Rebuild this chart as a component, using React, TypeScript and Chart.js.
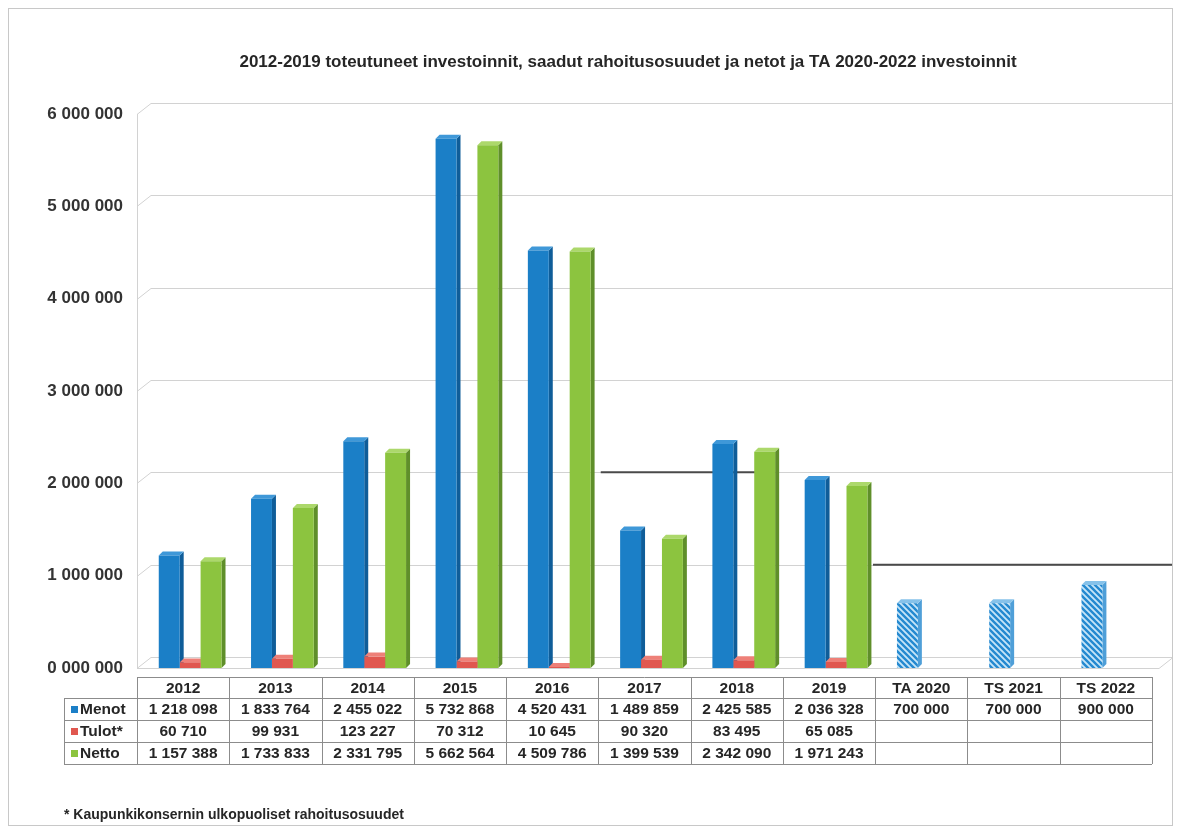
import { useEffect, useRef } from "react";
import { Chart, registerables } from "chart.js";

Chart.register(...registerables);

const FONT = "'Liberation Sans', Arial, sans-serif";

const categories = ["2012", "2013", "2014", "2015", "2016", "2017", "2018", "2019", "TA 2020", "TS 2021", "TS 2022"];
const menot = [1218098, 1833764, 2455022, 5732868, 4520431, 1489859, 2425585, 2036328, 700000, 700000, 900000];
const tulot = [60710, 99931, 123227, 70312, 10645, 90320, 83495, 65085, null, null, null];
const netto = [1157388, 1733833, 2331795, 5662564, 4509786, 1399539, 2342090, 1971243, null, null, null];
const seriesNames = ["Menot", "Tulot*", "Netto"];

const yTicks = [0, 1000000, 2000000, 3000000, 4000000, 5000000, 6000000];
const yTickLabels = ["0 000 000", "1 000 000", "2 000 000", "3 000 000", "4 000 000", "5 000 000", "6 000 000"];

const titleText = "2012-2019 toteutuneet investoinnit, saadut rahoitusosuudet ja netot ja TA 2020-2022 investoinnit";
const footnote = "* Kaupunkikonsernin ulkopuoliset rahoitusosuudet";

// planned years (TA/TS) start here, drawn hatched
const plannedFrom = 8;
// darker pieces of the back-wall gridlines
const darkGridSegments = [
  { value: 2000000, from: 4.45, to: 6.2 },
  { value: 1000000, from: 7.4, to: 10.65 },
];

const COLORS = {
  front: ["#1b7fc7", "#e0574f", "#8cc43f"],
  side: ["#0f5d99", "#a83c35", "#5f8f2a"],
  top: ["#3f98d8", "#ee8078", "#acd86b"],
};
const WALL_DX = 14;
const WALL_DY = 11;
const BAR_D = 4;
// bars stand half-way into the 3D floor, the table/front edge is shifted left of them
const FRONT_SHIFT = 7;

const fmt = (v: number | null) => (v == null ? "" : String(v).replace(/\B(?=(\d{3})+(?!\d))/g, " "));

function makeHatch(ctx: CanvasRenderingContext2D) {
  const c = document.createElement("canvas");
  c.width = 6;
  c.height = 6;
  const g = c.getContext("2d")!;
  g.fillStyle = "#c6e5f8";
  g.fillRect(0, 0, 6, 6);
  g.strokeStyle = "#2589d0";
  g.lineWidth = 2.4;
  g.beginPath();
  g.moveTo(-1, -1);
  g.lineTo(7, 7);
  g.moveTo(-1, 5);
  g.lineTo(1, 7);
  g.moveTo(5, -1);
  g.lineTo(7, 1);
  g.stroke();
  return ctx.createPattern(c, "repeat")!;
}

const wallPlugin = {
  id: "wall",
  beforeDatasetsDraw(chart: any) {
    const { ctx, chartArea } = chart;
    const x = chart.scales.x;
    const y = chart.scales.y;
    const front = chartArea.left - FRONT_SHIFT;
    ctx.save();
    ctx.lineWidth = 1;
    ctx.strokeStyle = "#d2d2d2";
    yTicks.forEach((v) => {
      const py = Math.round(y.getPixelForValue(v)) + 0.5;
      ctx.beginPath();
      ctx.moveTo(front, py);
      ctx.lineTo(front + WALL_DX, py - WALL_DY);
      ctx.lineTo(chartArea.right + WALL_DX, py - WALL_DY);
      ctx.stroke();
    });
    ctx.beginPath();
    ctx.moveTo(front + 0.5, y.getPixelForValue(6000000));
    ctx.lineTo(front + 0.5, y.getPixelForValue(0));
    ctx.moveTo(front, y.getPixelForValue(0) + 0.5);
    ctx.lineTo(chartArea.right, y.getPixelForValue(0) + 0.5);
    ctx.lineTo(chartArea.right + WALL_DX, y.getPixelForValue(0) - WALL_DY + 0.5);
    ctx.stroke();

    ctx.strokeStyle = "#4a4a4a";
    ctx.lineWidth = 2;
    darkGridSegments.forEach((s) => {
      const py = y.getPixelForValue(s.value) - WALL_DY;
      ctx.beginPath();
      ctx.moveTo(x.getPixelForValue(s.from), py);
      ctx.lineTo(x.getPixelForValue(s.to), py);
      ctx.stroke();
    });

    // side and top faces of the bars, fronts are painted over them by Chart.js
    chart.data.datasets.forEach((ds: any, di: number) => {
      const meta = chart.getDatasetMeta(di);
      meta.data.forEach((bar: any, i: number) => {
        if (ds.data[i] == null) return;
        const { x: bx, y: by, base, width } = bar.getProps(["x", "y", "base", "width"], true);
        const l = bx - width / 2;
        const r = bx + width / 2;
        const planned = di === 0 && i >= plannedFrom;
        ctx.fillStyle = planned ? "#4f9fd8" : COLORS.side[di];
        ctx.beginPath();
        ctx.moveTo(r, by);
        ctx.lineTo(r + BAR_D, by - BAR_D);
        ctx.lineTo(r + BAR_D, base - BAR_D);
        ctx.lineTo(r, base);
        ctx.closePath();
        ctx.fill();
        ctx.fillStyle = planned ? "#86c2ea" : COLORS.top[di];
        ctx.beginPath();
        ctx.moveTo(l, by);
        ctx.lineTo(l + BAR_D, by - BAR_D);
        ctx.lineTo(r + BAR_D, by - BAR_D);
        ctx.lineTo(r, by);
        ctx.closePath();
        ctx.fill();
      });
    });
    ctx.restore();
  },
};

const tablePlugin = {
  id: "datatable",
  afterDraw(chart: any) {
    const { ctx, chartArea } = chart;
    const x = chart.scales.x;
    const half = (x.getPixelForValue(1) - x.getPixelForValue(0)) / 2;
    const colX = (i: number) => x.getPixelForValue(i) - FRONT_SHIFT;
    const left = chartArea.left - FRONT_SHIFT;
    const right = colX(categories.length - 1) + half;
    const legendLeft = 55;
    const top = chartArea.bottom + 9;
    const rows = [top, top + 21, top + 43, top + 65, top + 87];
    const series = [menot, tulot, netto];

    ctx.save();
    ctx.strokeStyle = "#8c8c8c";
    ctx.lineWidth = 1;
    ctx.beginPath();
    ctx.moveTo(left, rows[0] + 0.5);
    ctx.lineTo(right, rows[0] + 0.5);
    for (let r = 1; r < rows.length; r++) {
      ctx.moveTo(legendLeft, rows[r] + 0.5);
      ctx.lineTo(right, rows[r] + 0.5);
    }
    ctx.moveTo(legendLeft + 0.5, rows[1]);
    ctx.lineTo(legendLeft + 0.5, rows[4]);
    for (let i = 0; i <= categories.length; i++) {
      const px = Math.round(colX(i) - half) + 0.5;
      ctx.moveTo(px, rows[0]);
      ctx.lineTo(px, rows[4]);
    }
    ctx.stroke();

    ctx.fillStyle = "#262626";
    ctx.textAlign = "center";
    ctx.textBaseline = "middle";
    ctx.font = `bold 15.5px ${FONT}`;
    categories.forEach((c, i) => {
      ctx.fillText(c, colX(i), (rows[0] + rows[1]) / 2 + 1);
    });
    series.forEach((s, si) => {
      const cy = (rows[si + 1] + rows[si + 2]) / 2 + 1;
      s.forEach((v, i) => ctx.fillText(fmt(v), colX(i), cy));
      ctx.fillStyle = COLORS.front[si];
      ctx.fillRect(legendLeft + 7, cy - 4, 7, 7);
      ctx.fillStyle = "#262626";
      ctx.textAlign = "left";
      ctx.fillText(seriesNames[si], legendLeft + 16, cy);
      ctx.textAlign = "center";
    });

    ctx.font = `bold 17px ${FONT}`;
    ctx.fillText(titleText, 619, 53);
    ctx.textAlign = "left";
    ctx.font = `bold 14px ${FONT}`;
    ctx.fillText(footnote, 55, 806);
    ctx.restore();
  },
};

export default function App() {
  const canvasRef = useRef<HTMLCanvasElement>(null);

  useEffect(() => {
    if (!canvasRef.current) return;
    const hatch = makeHatch(canvasRef.current.getContext("2d")!);
    const menotFill = menot.map((_, i) => (i >= plannedFrom ? hatch : COLORS.front[0]));

    const chart = new Chart(canvasRef.current, {
      type: "bar",
      data: {
        labels: categories,
        datasets: [
          { label: seriesNames[0], data: menot, backgroundColor: menotFill as any },
          { label: seriesNames[1], data: tulot, backgroundColor: COLORS.front[1] },
          { label: seriesNames[2], data: netto, backgroundColor: COLORS.front[2] },
        ],
      },
      options: {
        animation: false,
        responsive: true,
        maintainAspectRatio: false,
        layout: { padding: { top: 105, bottom: 157, right: 13, left: FRONT_SHIFT } },
        datasets: { bar: { categoryPercentage: 0.68, barPercentage: 1 } },
        plugins: { legend: { display: false }, tooltip: { enabled: false } },
        scales: {
          x: { display: false },
          y: {
            min: 0,
            max: 6000000,
            afterBuildTicks: (s: any) => {
              s.ticks = yTicks.map((v) => ({ value: v }));
            },
            afterFit: (s: any) => {
              s.width = 128;
            },
            grid: { display: false, drawTicks: false },
            border: { display: false },
            ticks: {
              callback: (_v: any, i: number) => yTickLabels[i],
              font: { family: FONT, size: 17, weight: "bold" },
              color: "#333",
              padding: 14 + FRONT_SHIFT,
            },
          },
        },
      },
      plugins: [wallPlugin, tablePlugin],
    });

    return () => chart.destroy();
  }, []);

  return (
    <div style={{ width: 1165, height: 818, border: "1px solid #c8c8c8", boxSizing: "border-box", background: "#fff" }}>
      <div style={{ position: "relative", width: 1163, height: 816 }}>
        <canvas ref={canvasRef} />
      </div>
    </div>
  );
}
